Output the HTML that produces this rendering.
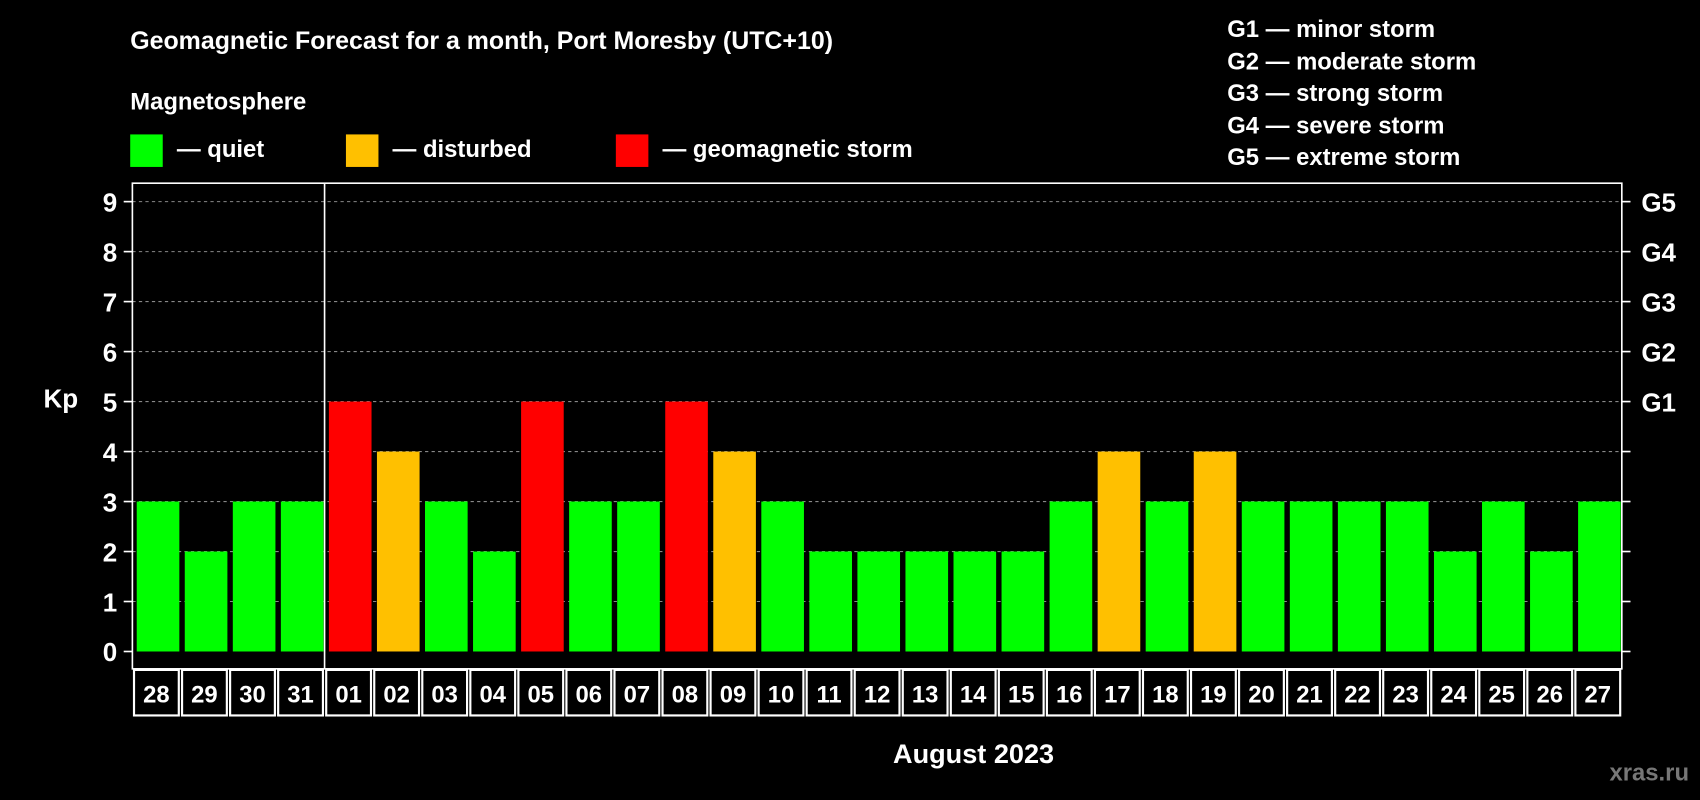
<!DOCTYPE html>
<html><head><meta charset="utf-8"><style>
html,body{margin:0;padding:0;background:#000;}
svg{display:block;font-family:"Liberation Sans",Arial,sans-serif;font-weight:bold;}
</style></head><body>
<svg id="chart" width="1700" height="800" viewBox="0 0 1568 738" xmlns="http://www.w3.org/2000/svg">
<rect x="0" y="0" width="1568" height="738" fill="#000"/>
<text x="120" y="45" fill="#fff" font-size="23">Geomagnetic Forecast for a month, Port Moresby (UTC+10)</text>
<text x="120" y="101" fill="#fff" font-size="22">Magnetosphere</text>
<g>
<rect x="120" y="124" width="30" height="30" fill="#00ff00"/>
<text x="163" y="145" fill="#fff" font-size="22">— quiet</text>
<rect x="319" y="124" width="30" height="30" fill="#ffc000"/>
<text x="362" y="145" fill="#fff" font-size="22">— disturbed</text>
<rect x="568" y="124" width="30" height="30" fill="#ff0000"/>
<text x="611" y="145" fill="#fff" font-size="22">— geomagnetic storm</text>
</g>
<g fill="#fff" font-size="22">
<text x="1132" y="34">G1 — minor storm</text>
<text x="1132" y="64">G2 — moderate storm</text>
<text x="1132" y="93">G3 — strong storm</text>
<text x="1132" y="123">G4 — severe storm</text>
<text x="1132" y="152">G5 — extreme storm</text>
</g>
<g id="plot"></g>
<text x="40" y="376" fill="#fff" font-size="24">Kp</text>
<text x="898" y="704" fill="#fff" font-size="25" text-anchor="middle">August 2023</text>
<text x="1558" y="720" fill="#777" font-size="22" text-anchor="end">xras.ru</text>
</svg>
<script>
const categories = ["28","29","30","31","01","02","03","04","05","06","07","08","09","10","11","12","13","14","15","16","17","18","19","20","21","22","23","24","25","26","27"];
const kpValues = [3,2,3,3,5,4,3,2,5,3,3,5,4,3,2,2,2,2,2,3,4,3,4,3,3,3,3,2,3,2,3];
const yTicks = [0,1,2,3,4,5,6,7,8,9];
const gLabels = ["","","","","","G1","G2","G3","G4","G5"];

const NS="http://www.w3.org/2000/svg";
const L=122, R=1496, T=169, B=617, y0=601, y9=186;
const slot=(R-L)/categories.length;
const yS=v=>y0-(y0-y9)*v/9;
const xS=i=>L+slot*i;
const g=document.getElementById('plot');
function mk(tag,attrs){const e=document.createElementNS(NS,tag);for(const k in attrs)e.setAttribute(k,attrs[k]);g.appendChild(e);return e;}
function color(v){return v>=5?"#ff0000":v>=4?"#ffc000":"#00ff00";}

yTicks.forEach((t,i)=>{
  if(t>0){const gl=mk('line',{x1:L,x2:R,y1:yS(t),y2:yS(t),stroke:'#888','stroke-dasharray':'3,3','stroke-width':1});
  
  }
  const tl=mk('line',{x1:L-8,x2:L,y1:yS(t),y2:yS(t),stroke:'#fff','stroke-width':1.5});
  
  
  const tr=mk('line',{x1:R,x2:R+8,y1:yS(t),y2:yS(t),stroke:'#fff','stroke-width':1.5});
  
  
  const lb=mk('text',{x:L-14,y:yS(t)+9,fill:'#fff','font-size':24,'text-anchor':'end'});
  lb.textContent=t;
  
  
  if(gLabels[i]){const gl2=mk('text',{x:R+18,y:yS(t)+9,fill:'#fff','font-size':24});
  gl2.textContent=gLabels[i];
  
  }
});
kpValues.forEach((v,i)=>{
  const b=mk('rect',{x:xS(i)+4,y:yS(v),width:slot-5,height:y0-yS(v),fill:color(v)});
  
  
  const c=mk('rect',{x:xS(i)+1.5,y:B+1,width:slot-3,height:42,fill:'none',stroke:'#fff','stroke-width':2});
  
  
  const t=mk('text',{x:xS(i)+slot/2,y:B+31,fill:'#fff','font-size':22,'text-anchor':'middle'});
  t.textContent=categories[i];
  
  
});
const fr=mk('rect',{x:L,y:T,width:R-L,height:B-T,fill:'none',stroke:'#fff','stroke-width':1.5});


const sep=mk('line',{x1:xS(4),x2:xS(4),y1:T,y2:B,stroke:'#fff','stroke-width':1.5});


</script>
</body></html>
